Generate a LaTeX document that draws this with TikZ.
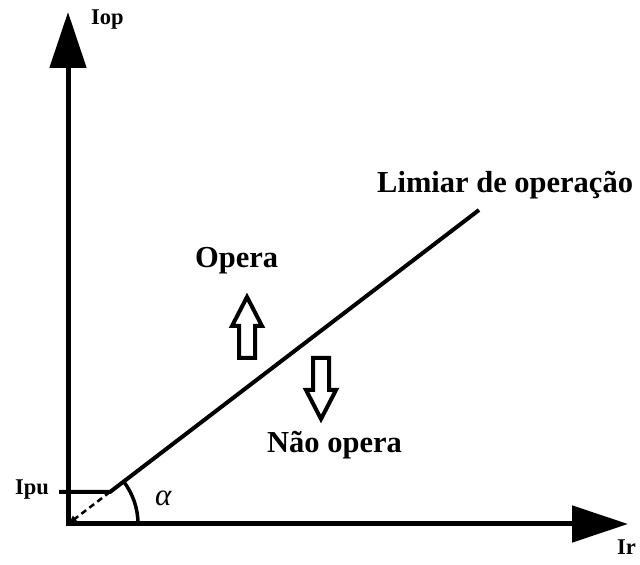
\documentclass[tikz,border=0pt]{standalone}
\usepackage{fontspec}
\setmainfont{Liberation Serif}
\usetikzlibrary{
  arrows.meta,
  calc,
  positioning
}
\tikzset{
  axis/.style={line width=5pt, -{Triangle[length=56pt,width=36pt]}},
  curve/.style={line width=4pt},
  lbl/.style={inner sep=0pt, font=\bfseries\fontsize{22.5}{26}\selectfont},
  txt/.style={inner sep=0pt, font=\bfseries\fontsize{30.5}{36}\selectfont},
  hollow arrow/.pic={
    \draw[line width=4pt, miter limit=10] (0pt,0pt) -- (15pt,-29pt) -- (8pt,-29pt)
      -- (8pt,-61pt) -- (-8pt,-61pt) -- (-8pt,-29pt) -- (-15pt,-29pt) -- cycle;
  }
}

\begin{document}
\begin{tikzpicture}[x=1pt,y=1pt]
      \useasboundingbox (0,0) rectangle (640,565);
      \coordinate (origin) at (68,41);
      \coordinate (ytip) at (68,553);
      \coordinate (xtip) at (628,41);
      \coordinate (ybase) at (68,38.5);
      \coordinate (pu0) at (59,73);
      \coordinate (pu) at (110,73);
      \coordinate (lim) at (479,355);

      % axes
      \draw[axis] (ybase) -- (ytip);
      \draw[axis] (origin) -- (xtip);
      \node[lbl, anchor=base west] (iop) at (91,540) {Iop};
      \node[lbl, anchor=base west] (ir) at (617,10) {Ir};

      % pickup current + threshold line
      \draw[curve] (pu0) -- (pu) -- (lim);
      \node[lbl, anchor=base west] (ipu) at (15,70) {Ipu};
      \draw[line width=2.5pt, dash pattern=on 6pt off 4pt, -{Latex[length=9pt,width=8pt]}] (pu) -- (origin);

      % angle alpha
      \draw[line width=3.5pt] ($(origin)!70pt!(lim)$) arc[start angle=37.4, end angle=0, radius=70];
      \node[anchor=base west, inner sep=0pt, font=\itshape\fontsize{31}{36}\selectfont] (alpha) at (155,59) {α};

      % regions
      \node[txt, anchor=base west] (limiar) at (377,372) {Limiar de operação};
      \node[txt, anchor=base west] (opera) at (195,297) {Opera};
      \node[txt, anchor=base west] (naoopera) at (267,112) {Não opera};
      \pic at (247,268) {hollow arrow};
      \pic[rotate=180] at (321,146) {hollow arrow};
\end{tikzpicture}
\end{document}
